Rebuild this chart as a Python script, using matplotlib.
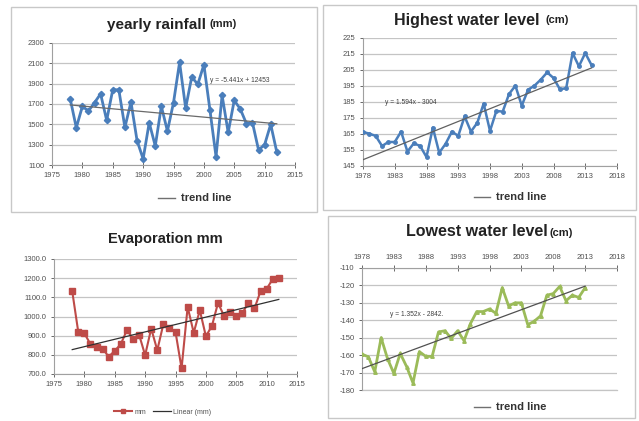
import numpy as np
import matplotlib
matplotlib.use('Agg')
import matplotlib.pyplot as plt
from matplotlib.patches import Rectangle
from matplotlib.lines import Line2D

plt.rcParams['font.family'] = ['Liberation Sans', 'DejaVu Sans']
plt.rcParams['axes.unicode_minus'] = False

# ---- data ----
rain_years = np.arange(1978, 2013)
rain_mm = [1750, 1467, 1677, 1631, 1713, 1800, 1540, 1840, 1840, 1470,
           1720, 1340, 1160, 1516, 1287, 1677, 1434, 1713, 2110, 1660,
           1966, 1893, 2087, 1640, 1182, 1785, 1420, 1736, 1650, 1507,
           1516, 1248, 1300, 1500, 1228]
rain_trend = (-5.441, 12453)

high_years = np.arange(1978, 2015)
high_cm = [166.3, 165.2, 163.8, 157.5, 160, 160, 166.5, 154, 159.2, 157.5,
           150.6, 169, 153.3, 158.8, 166.5, 163.8, 176, 166.5, 172, 184,
           166.9, 179.4, 179, 190, 195.2, 182.7, 192.7, 195.2, 199, 203.5,
           200, 193, 193.6, 215.6, 207.3, 215.6, 208]
high_trend = (1.594, -3004)

evap_years = np.arange(1978, 2013)
evap_mm = [1132, 918, 912, 856, 842, 833, 790, 821, 856, 929,
           885, 906, 798, 937, 824, 960, 941, 920, 729, 1050,
           915, 1033, 897, 951, 1071, 1002, 1021, 1005, 1016, 1073,
           1042, 1132, 1144, 1195, 1200]

low_years = np.arange(1978, 2014)
low_cm = [-159.4, -161, -169.6, -150, -162, -170.5, -159, -166.6, -176, -158,
          -160.7, -160.7, -146.7, -146, -150.4, -146, -151.7, -142, -135, -135,
          -133.5, -136, -121.3, -131.8, -130, -130, -142.5, -140.6, -137.5, -125.6,
          -124.7, -120.6, -128.8, -125.6, -126.9, -121.3]
low_trend = (1.352, -2842)

W, H = 639, 421
fig = plt.figure(figsize=(W / 100, H / 100), dpi=100)


def rect(l, t, r, b):
    return [l / W, 1 - b / H, (r - l) / W, (b - t) / H]


def ftext(x, y, s, **kw):
    fig.text(x / W, 1 - y / H, s, **kw)


def box(l, t, r, b):
    fig.patches.append(Rectangle((l / W, 1 - b / H), (r - l) / W, (b - t) / H,
                                 transform=fig.transFigure, fill=False,
                                 edgecolor='#c8c8c8', linewidth=1.0))


def style(ax, top=False):
    for s in ['right', 'top', 'bottom', 'left']:
        ax.spines[s].set_visible(False)
    ax.spines['left'].set_visible(True)
    ax.spines['left'].set_color('#a0a0a0')
    xs = 'top' if top else 'bottom'
    ax.spines[xs].set_visible(True)
    ax.spines[xs].set_color('#a0a0a0')
    ax.grid(axis='y', color='#c4c4c4', linewidth=0.9)
    ax.set_axisbelow(True)
    ax.tick_params(labelsize=5.5, colors='#505050', length=2.5, width=0.6,
                   pad=3)
    ax.tick_params(axis='x', direction='inout', length=4)


box(11, 7, 317, 212)
box(323, 5, 636, 210)
box(328, 216, 635, 418)

# ---- yearly rainfall ----
ax1 = fig.add_axes(rect(52, 43, 295, 165))
ax1.plot(rain_years, rain_mm, color='#4a7ebb', lw=2.0, marker='D', ms=3.2, zorder=3)
tx = np.array([rain_years[0], rain_years[-1]])
ax1.plot(tx, rain_trend[0] * tx + rain_trend[1], color='#6a6a6a', lw=0.9, zorder=4)
ax1.set_xlim(1975, 2015)
ax1.set_ylim(1100, 2300)
ax1.set_xticks(range(1975, 2016, 5))
ax1.set_yticks(range(1100, 2301, 200))
style(ax1)
ax1.text(2001, 1930, 'y = -5.441x + 12453', fontsize=4.8, color='#404040', va='center')
ftext(206, 25, 'yearly rainfall', fontsize=11, fontweight='bold', ha='right', va='center', color='#222222')
ftext(209, 24, '(mm)', fontsize=8, fontweight='bold', ha='left', va='center', color='#222222')
fig.add_artist(Line2D([158 / W, 175 / W], [1 - 198 / H] * 2, color='#707070', lw=1.0))
ftext(181, 198, 'trend line', fontsize=8, fontweight='bold', va='center', color='#333333')

# ---- highest water level ----
ax2 = fig.add_axes(rect(363, 38, 617, 166))
ax2.plot(high_years, high_cm, color='#4a7ebb', lw=1.8, marker='o', ms=2.5, zorder=3)
tx = np.array([high_years[0], high_years[-1]])
ax2.plot(tx, high_trend[0] * tx + high_trend[1], color='#606060', lw=0.9, zorder=4)
ax2.set_xlim(1978, 2018)
ax2.set_ylim(145, 225)
ax2.set_xticks(range(1978, 2019, 5))
ax2.set_yticks(range(145, 226, 10))
style(ax2)
ax2.text(1981.4, 185, 'y = 1.594x - 3004', fontsize=4.8, color='#404040', va='center')
ftext(539, 20, 'Highest water level', fontsize=11.5, fontweight='bold', ha='right', va='center', color='#222222')
ftext(546, 20, '(cm)', fontsize=8, fontweight='bold', ha='left', va='center', color='#222222')
fig.add_artist(Line2D([474 / W, 490 / W], [1 - 197 / H] * 2, color='#707070', lw=1.0))
ftext(496, 197, 'trend line', fontsize=8, fontweight='bold', va='center', color='#333333')

# ---- evaporation ----
ax3 = fig.add_axes(rect(54, 259, 297, 374))
ax3.plot(evap_years, evap_mm, color='#be4b48', lw=1.5, marker='s', ms=4, zorder=3, label='mm')
c = np.polyfit(evap_years, evap_mm, 1)
tx = np.array([evap_years[0], evap_years[-1]])
ax3.plot(tx, np.polyval(c, tx), color='#303030', lw=0.9, zorder=4, label='Linear (mm)')
ax3.set_xlim(1975, 2015)
ax3.set_ylim(700, 1300)
ax3.set_xticks(range(1975, 2016, 5))
ax3.set_yticks(range(700, 1301, 100))
ax3.set_yticklabels([f'{v:.1f}' for v in range(700, 1301, 100)])
style(ax3)
ax3.legend(loc='center', bbox_to_anchor=(163 / W, 1 - 412 / H), bbox_transform=fig.transFigure,
           ncol=2, frameon=False, fontsize=5, handlelength=2.5, columnspacing=1.0,
           handletextpad=0.4, labelcolor='#505050', markerscale=0.7)
ftext(165, 239, 'Evaporation mm', fontsize=10.5, fontweight='bold', ha='center', va='center', color='#222222')

# ---- lowest water level ----
ax4 = fig.add_axes(rect(362, 268, 617, 390))
ax4.plot(low_years, low_cm, color='#9bbb59', lw=2.0, marker='^', ms=2.5, zorder=3)
tx = np.array([low_years[0], low_years[-1]])
ax4.plot(tx, low_trend[0] * tx + low_trend[1], color='#505050', lw=0.9, zorder=4)
ax4.set_xlim(1978, 2018)
ax4.set_ylim(-180, -110)
ax4.set_xticks(range(1978, 2019, 5))
ax4.set_yticks(range(-180, -109, 10))
ax4.xaxis.tick_top()
style(ax4, top=True)
ax4.axhline(-180, color='#c4c4c4', lw=0.9, clip_on=False, zorder=0.5)
ax4.text(1982.4, -136.4, 'y = 1.352x - 2842.', fontsize=4.8, color='#404040', va='center')
ftext(548, 232, 'Lowest water level', fontsize=11.5, fontweight='bold', ha='right', va='center', color='#222222')
ftext(550, 233, '(cm)', fontsize=8, fontweight='bold', ha='left', va='center', color='#222222')
fig.add_artist(Line2D([474 / W, 490 / W], [1 - 407 / H] * 2, color='#707070', lw=1.0))
ftext(496, 407, 'trend line', fontsize=8, fontweight='bold', va='center', color='#333333')

fig.savefig('out.png', dpi=100)
